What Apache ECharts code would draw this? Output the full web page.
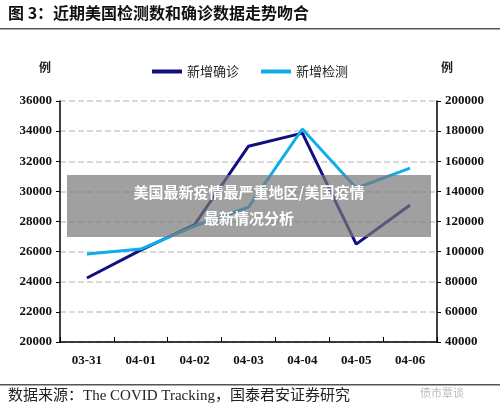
<!DOCTYPE html>
<html><head><meta charset="utf-8">
<script src="https://cdn.jsdelivr.net/npm/echarts@6/dist/echarts.min.js"></script>
<style>html,body{margin:0;padding:0;background:#fff}#c{width:500px;height:413px}</style>
</head><body><div id="c"></div>
<script>
var categories = ['03-31','04-01','04-02','04-03','04-04','04-05','04-06'];
var confirmed = [24250, 26100, 27800, 33000, 33870, 26500, 29100];
var tests = [98400, 101700, 117000, 129600, 181400, 142200, 155400];
var serif = '"Liberation Serif","Noto Sans CJK SC",serif';
var chart = echarts.init(document.getElementById('c'));
function plain(v){return String(v);}
chart.setOption({
  animation:false,
  grid:{left:60,right:63,top:101,bottom:71},
  legend:{top:60,left:'center',itemWidth:30,itemHeight:4,itemGap:22,icon:'rect',
    textStyle:{fontFamily:'"Noto Sans CJK SC"',fontSize:13,color:'#222'},
    data:['新增确诊','新增检测']},
  xAxis:{type:'category',data:categories,boundaryGap:true,
    axisLine:{lineStyle:{color:'#000',width:1.5}},
    axisTick:{show:true,inside:true,length:5,lineStyle:{color:'#000'}},
    axisLabel:{fontFamily:serif,fontWeight:'bold',fontSize:13,color:'#111',margin:12}},
  yAxis:[{type:'value',min:20000,max:36000,interval:2000,name:'例',
      nameLocation:'end',nameGap:28,nameTextStyle:{fontFamily:'"Noto Sans CJK SC"',fontWeight:'bold',color:'#222',padding:[0,30,0,0]},
      axisLine:{show:true,lineStyle:{color:'#000',width:1.5}},
      axisTick:{show:true,length:4,lineStyle:{color:'#000'}},
      axisLabel:{formatter:plain,fontFamily:serif,fontWeight:'bold',fontSize:13,color:'#111'},
      splitLine:{lineStyle:{color:'#ccc',type:'dashed',width:1.5}}},
    {type:'value',min:40000,max:200000,interval:20000,name:'例',
      nameLocation:'end',nameGap:28,nameTextStyle:{fontFamily:'"Noto Sans CJK SC"',fontWeight:'bold',color:'#222',padding:[0,0,0,20]},
      axisLine:{show:true,lineStyle:{color:'#000',width:1.5}},
      axisTick:{show:true,length:4,lineStyle:{color:'#000'}},
      axisLabel:{formatter:plain,fontFamily:serif,fontWeight:'bold',fontSize:13,color:'#111'},
      splitLine:{show:false}}],
  series:[
    {name:'新增确诊',type:'line',data:confirmed,yAxisIndex:0,symbol:'none',
      lineStyle:{color:'#120f80',width:3},itemStyle:{color:'#120f80'}},
    {name:'新增检测',type:'line',data:tests,yAxisIndex:1,symbol:'none',
      lineStyle:{color:'#0eaeea',width:3},itemStyle:{color:'#0eaeea'}}
  ],
  graphic:[
    {type:'text',left:8,top:5,style:{text:'图 3：近期美国检测数和确诊数据走势吻合',font:'bold 16px "Noto Sans CJK SC"',fill:'#111'}},
    {type:'rect',shape:{x:0,y:28,width:500,height:1.5},style:{fill:'#555'}},
    {type:'rect',shape:{x:0,y:384,width:500,height:1.5},style:{fill:'#555'}},
    {type:'text',left:8,top:389,style:{text:'数据来源：The COVID Tracking，国泰君安证券研究',font:'15px "Liberation Serif","Noto Sans CJK SC"',fill:'#222'}},
    {type:'text',left:420,top:387,style:{text:'债市覃谈',font:'11px "Noto Sans CJK SC"',fill:'#bbb'}},
    {type:'rect',shape:{x:67,y:175,width:364,height:62},style:{fill:'rgba(120,120,120,0.7)'},z:100},
    {type:'text',x:249,y:192,z:101,style:{text:'美国最新疫情最严重地区/美国疫情',font:'bold 15px "Noto Sans CJK SC"',fill:'#fff',align:'center',verticalAlign:'middle'}},
    {type:'text',x:249,y:218,z:101,style:{text:'最新情况分析',font:'bold 15px "Noto Sans CJK SC"',fill:'#fff',align:'center',verticalAlign:'middle'}}
  ]
});
</script></body></html>
